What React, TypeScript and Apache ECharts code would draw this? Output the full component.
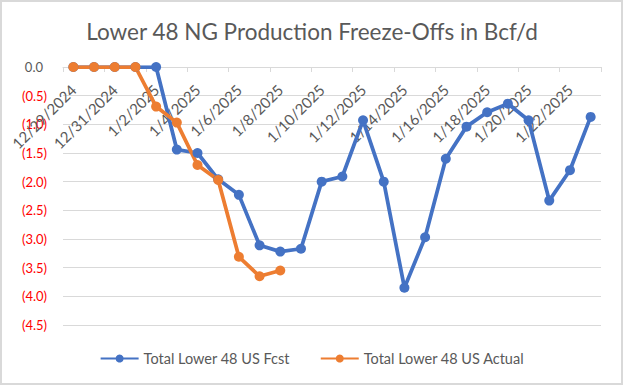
import React, { useEffect, useRef } from "react";
import * as echarts from "echarts";

const categories = [
  "12/29/2024", "12/30/2024", "12/31/2024", "1/1/2025", "1/2/2025", "1/3/2025",
  "1/4/2025", "1/5/2025", "1/6/2025", "1/7/2025", "1/8/2025", "1/9/2025",
  "1/10/2025", "1/11/2025", "1/12/2025", "1/13/2025", "1/14/2025", "1/15/2025",
  "1/16/2025", "1/17/2025", "1/18/2025", "1/19/2025", "1/20/2025", "1/21/2025",
  "1/22/2025", "1/23/2025",
];

const fcst = [
  0, 0, 0, 0, 0, -1.44, -1.5, -1.96, -2.23, -3.11, -3.22, -3.17, -2.0, -1.91,
  -0.93, -2.0, -3.85, -2.97, -1.6, -1.04, -0.79, -0.64, -0.93, -2.33, -1.8, -0.87,
];

const actual = [
  0, 0, 0, 0, -0.69, -0.97, -1.71, -1.97, -3.31, -3.65, -3.55,
  null, null, null, null, null, null, null, null, null, null, null, null, null, null, null,
];

const FONT = "Lato";
const GRAY = "#595959";
const GRID = "#d9d9d9";

export default function App() {
  const ref = useRef<HTMLDivElement>(null);
  useEffect(() => {
    document.body.style.margin = "0";
    const chart = echarts.init(ref.current!, null, { renderer: "svg" });
    chart.setOption({
      animation: false,
      backgroundColor: "#ffffff",
      textStyle: { fontFamily: FONT },
      title: {
        text: "Lower 48 NG Production Freeze-Offs in Bcf/d",
        left: "center",
        top: 15,
        textStyle: { fontFamily: FONT, fontSize: 22.5, fontWeight: "normal", color: GRAY },
      },
      grid: { left: 63, right: 23, top: 67, height: 258, containLabel: false },
      legend: {
        bottom: 15,
        left: "center",
        itemWidth: 38,
        itemHeight: 10,
        itemGap: 30,
        textStyle: { fontFamily: FONT, fontSize: 14.5, color: GRAY },
        data: ["Total Lower 48 US Fcst", "Total Lower 48 US Actual"],
      },
      xAxis: {
        type: "category",
        position: "top",
        data: categories,
        boundaryGap: true,
        axisLine: { show: true, onZero: false, lineStyle: { color: GRID, width: 1 } },
        axisTick: { show: true, inside: true, interval: 1, length: 5, lineStyle: { color: GRID } },
        axisLabel: {
          inside: true,
          interval: 1,
          rotate: -45,
          margin: 20,
          fontFamily: FONT,
          fontSize: 15,
          color: GRAY,
        },
        splitLine: { show: false },
      },
      yAxis: {
        type: "value",
        min: -4.5,
        max: 0,
        interval: 0.5,
        axisLine: { show: false },
        axisTick: { show: false },
        splitLine: { lineStyle: { color: GRID, width: 1 } },
        axisLabel: {
          margin: 16,
          fontFamily: FONT,
          fontSize: 13,
          formatter: (v: number) =>
            v < 0 ? `{neg|(${Math.abs(v).toFixed(1)})}` : `{pos|${v.toFixed(1)}}`,
          rich: {
            neg: { color: "#FF0000", fontFamily: FONT, fontSize: 13 },
            pos: { color: GRAY, fontFamily: FONT, fontSize: 13, padding: [0, 4, 0, 0] },
          },
        },
      },
      series: [
        {
          name: "Total Lower 48 US Fcst",
          type: "line",
          data: fcst,
          symbol: "circle",
          symbolSize: 10,
          lineStyle: { color: "#4472C4", width: 3.75 },
          itemStyle: { color: "#4472C4" },
        },
        {
          name: "Total Lower 48 US Actual",
          type: "line",
          data: actual,
          symbol: "circle",
          symbolSize: 10,
          lineStyle: { color: "#ED7D31", width: 3.75 },
          itemStyle: { color: "#ED7D31" },
        },
      ],
      graphic: [
        {
          type: "rect",
          shape: { x: 1, y: 1, width: 621, height: 383 },
          style: { fill: "none", stroke: "#d9d9d9", lineWidth: 2 },
          silent: true,
        },
      ],
    });
    return () => chart.dispose();
  }, []);
  return <div ref={ref} style={{ width: 624, height: 386 }} />;
}
